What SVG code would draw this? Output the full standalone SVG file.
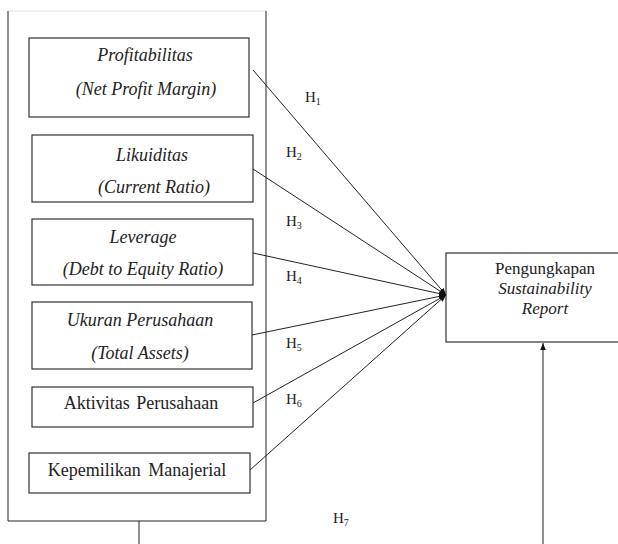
<svg xmlns="http://www.w3.org/2000/svg" width="618" height="544" viewBox="0 0 618 544">
<style>
.box{fill:#fff;stroke:#333;stroke-width:1.2}
.t{font-family:"Liberation Serif","Times New Roman",serif;font-size:18px;fill:#222;text-anchor:middle}
.i{font-style:italic}
.r{font-size:17px}
.h{font-family:"Liberation Serif","Times New Roman",serif;font-size:15px;fill:#222}
.s{font-size:10px}
.c{stroke:#222;stroke-width:1;fill:none}
</style>
<defs>
<marker id="ah" viewBox="0 0 10 10" refX="10" refY="5" markerWidth="7" markerHeight="7" orient="auto" markerUnits="userSpaceOnUse">
<path d="M0,1 L10,5 L0,9 z" fill="#111"/>
</marker>
</defs>
<rect width="618" height="544" fill="#fff"/>
<g id="frame">
<line x1="8" y1="11" x2="266" y2="11" stroke="#ddd" stroke-width="1"/>
<polyline points="8,11 8,521 266,521 266,11" fill="none" stroke="#222" stroke-width="1"/>
</g>
<g id="n1"><rect class="box" x="29" y="38" width="220" height="79"/>
<text class="t i" x="145" y="61">Profitabilitas</text>
<text class="t i" x="146" y="95">(Net Profit Margin)</text></g>
<g id="n2"><rect class="box" x="32" y="135" width="221" height="67"/>
<text class="t i" x="152" y="161">Likuiditas</text>
<text class="t i" x="154" y="193">(Current Ratio)</text></g>
<g id="n3"><rect class="box" x="32" y="219" width="221" height="66"/>
<text class="t i" x="143" y="243">Leverage</text>
<text class="t i" x="143" y="275">(Debt to Equity Ratio)</text></g>
<g id="n4"><rect class="box" x="32" y="302" width="220" height="67"/>
<text class="t i" x="140" y="326">Ukuran Perusahaan</text>
<text class="t i" x="140" y="359">(Total Assets)</text></g>
<g id="n5"><rect class="box" x="32" y="387" width="221" height="40"/>
<text class="t" x="141" y="409" style="word-spacing:2px">Aktivitas Perusahaan</text></g>
<g id="n6"><rect class="box" x="29" y="453" width="221" height="40"/>
<text class="t" x="137" y="476" style="word-spacing:3px">Kepemilikan Manajerial</text></g>
<g id="n7"><rect class="box" x="446" y="253" width="180" height="89"/>
<text class="t r" x="545" y="274">Pengungkapan</text>
<text class="t i r" x="545" y="294">Sustainability</text>
<text class="t i r" x="545" y="314">Report</text></g>
<g id="connectors">
<line class="c" x1="253" y1="70" x2="446" y2="295" marker-end="url(#ah)"/>
<line class="c" x1="253" y1="169" x2="446" y2="295" marker-end="url(#ah)"/>
<line class="c" x1="253" y1="253" x2="446" y2="295" marker-end="url(#ah)"/>
<line class="c" x1="252" y1="335" x2="446" y2="295" marker-end="url(#ah)"/>
<line class="c" x1="253" y1="403" x2="446" y2="295" marker-end="url(#ah)"/>
<line class="c" x1="250" y1="470" x2="446" y2="295" marker-end="url(#ah)"/>
<line class="c" x1="139" y1="521" x2="139" y2="544"/>
<line class="c" x1="543" y1="544" x2="543" y2="343" marker-end="url(#ah)"/>
</g>
<g id="labels">
<text class="h" x="305" y="102">H<tspan class="s" dy="3">1</tspan></text>
<text class="h" x="286" y="157">H<tspan class="s" dy="3">2</tspan></text>
<text class="h" x="286" y="226">H<tspan class="s" dy="3">3</tspan></text>
<text class="h" x="286" y="281">H<tspan class="s" dy="3">4</tspan></text>
<text class="h" x="286" y="348">H<tspan class="s" dy="3">5</tspan></text>
<text class="h" x="286" y="404">H<tspan class="s" dy="3">6</tspan></text>
<text class="h" x="333" y="523">H<tspan class="s" dy="3">7</tspan></text>
</g>
</svg>
